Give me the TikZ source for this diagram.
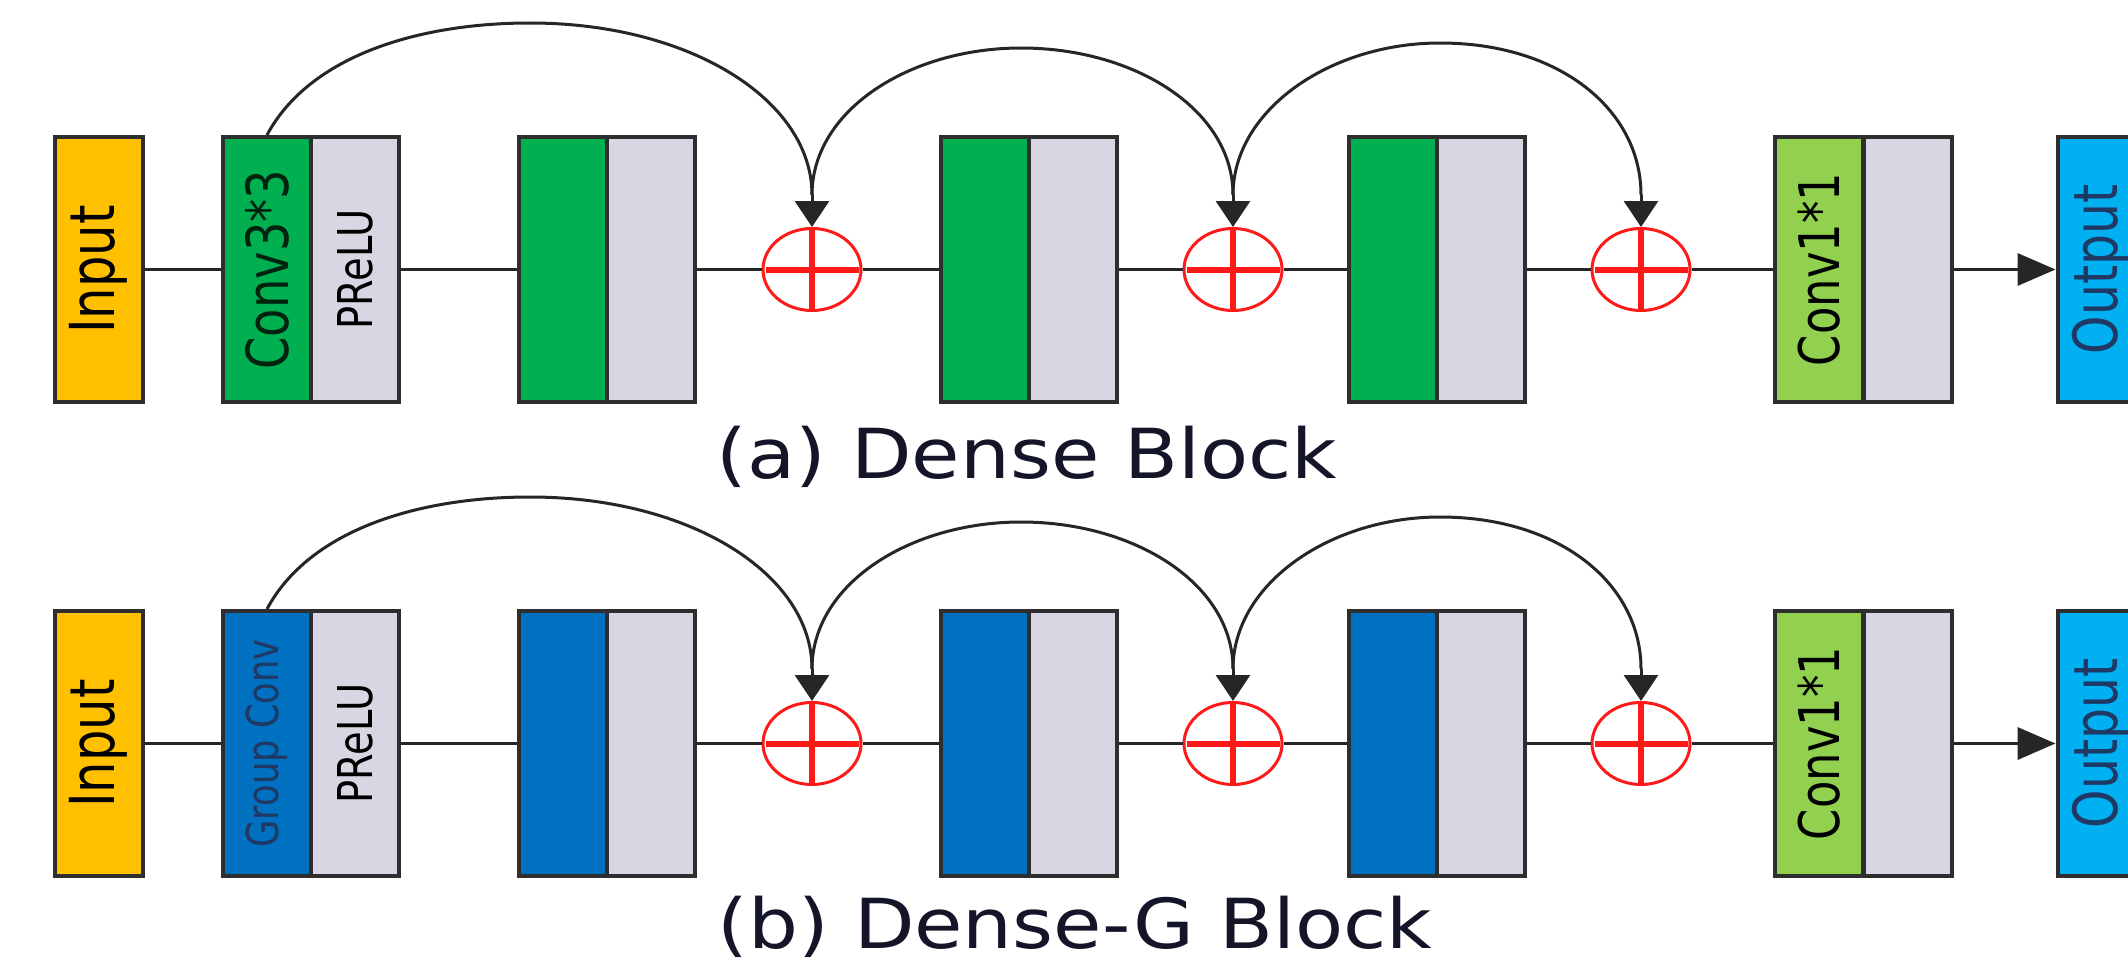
\documentclass[tikz,border=0pt]{standalone}
\usepackage{fontspec}
\usepackage{graphicx}
\usetikzlibrary{shapes.geometric,arrows.meta}
\newfontfamily\boxfont[FakeStretch=0.8]{DejaVu Sans}
\newfontfamily\capfont[FakeStretch=1.14]{DejaVu Sans}
\definecolor{inyellow}{HTML}{FFC000}
\definecolor{convgreen}{HTML}{00B050}
\definecolor{actgray}{HTML}{D9D6E4}
\definecolor{lightgreen}{HTML}{92D050}
\definecolor{gconvblue}{HTML}{0070C0}
\definecolor{outblue}{HTML}{00B0F0}
\definecolor{bordergray}{HTML}{2E2E2E}
\definecolor{plusred}{HTML}{FF1A1A}
\definecolor{gtext}{HTML}{1F3864}
\definecolor{captext}{HTML}{15152A}
\newcommand\vtxt[3][black]{\rotatebox{90}{\fontsize{#2}{#2}\selectfont\boxfont\color{#1}#3}}
\begin{document}
\begin{tikzpicture}[x=1pt,y=-1pt,
  blk/.style={draw=bordergray, line width=4pt, minimum width=88pt, minimum height=265pt, inner sep=0pt, anchor=center},
  plusnode/.style={ellipse, draw=plusred, line width=3pt, fill=white, minimum width=98pt, minimum height=82pt, inner sep=0pt},
  plusbar/.style={draw=plusred, line width=6pt},
  link/.style={line width=3.5pt, draw=black!85},
  skiparc/.style={line width=3pt, draw=black!85},
  skiptip/.style={line width=3pt, draw=black!85, -{Triangle[length=26pt,width=34pt]}},
  outtip/.style={line width=3.5pt, draw=black!85, -{Triangle[length=38pt,width=32pt]}},
  captxt/.style={font=\fontsize{69}{69}\selectfont\capfont, text=captext, anchor=base, inner sep=0pt},
]
\fill[white] (0,0) rectangle (2128,958);
\useasboundingbox (0,0) rectangle (2128,958);

% ---------------- Row (a) ----------------
\node[blk, fill=inyellow] (ina) at (98.5,269.5) {\vtxt{62}{Input}};
\node[blk, fill=convgreen] (c1a) at (267,269.5) {\vtxt[black!80!convgreen]{58}{Conv3*3}};
\node[blk, fill=actgray] (c1b) at (355,269.5) {\vtxt{48}{PReLU}};
\node[blk, fill=convgreen] (c2a) at (563,269.5) {};
\node[blk, fill=actgray] (c2b) at (651,269.5) {};
\node[blk, fill=convgreen] (c3a) at (984.5,269.5) {};
\node[blk, fill=actgray] (c3b) at (1073,269.5) {};
\node[blk, fill=convgreen] (c4a) at (1392.5,269.5) {};
\node[blk, fill=actgray] (c4b) at (1481,269.5) {};
\node[blk, fill=lightgreen] (c5a) at (1819,269.5) {\vtxt{56}{Conv1*1}};
\node[blk, fill=actgray] (c5b) at (1907.5,269.5) {};
\node[blk, fill=outblue] (outa) at (2101.5,269.5) {\vtxt[gtext]{61}{Output}};

\draw[link] (ina.east) -- (c1a.west);
\draw[link] (c1b.east) -- (c2a.west);
\node[plusnode] (p1a) at (812,269.5) {};
\node[plusnode] (p2a) at (1233,269.5) {};
\node[plusnode] (p3a) at (1641,269.5) {};
\draw[link] (c2b.east) -- (p1a.west);
\draw[link] (p1a.east) -- (c3a.west);
\draw[link] (c3b.east) -- (p2a.west);
\draw[link] (p2a.east) -- (c4a.west);
\draw[link] (c4b.east) -- (p3a.west);
\draw[link] (p3a.east) -- (c5a.west);
\draw[outtip] (c5b.east) -- (outa.west);
\foreach \p in {p1a,p2a,p3a}{
  \draw[plusbar] (\p.north) -- (\p.south);
  \draw[plusbar] ([xshift=4pt]\p.west) -- ([xshift=-4pt]\p.east);
}
\coordinate (j1a) at (812,195);
\coordinate (j2a) at (1233,195);
\coordinate (j3a) at (1641,195);
\draw[skiparc] (c1a.north) .. controls (310,55) and (420,23) .. (530,23)
  .. controls (690,23) and (812,100) .. (j1a);
\draw[skiparc] (j1a) .. controls (812,110) and (910,48) .. (1021,48)
  .. controls (1135,48) and (1233,110) .. (j2a);
\draw[skiparc] (j2a) .. controls (1233,110) and (1330,43) .. (1440,43)
  .. controls (1560,43) and (1641,110) .. (j3a);
\draw[skiptip] (j1a) -- (p1a.north);
\draw[skiptip] (j2a) -- (p2a.north);
\draw[skiptip] (j3a) -- (p3a.north);

\node[captxt] (capa) at (1027,478) {(a) Dense Block};

% ---------------- Row (b) ----------------
\node[blk, fill=inyellow] (inb) at (98.5,743.5) {\vtxt{62}{Input}};
\node[blk, fill=gconvblue] (g1a) at (267,743.5) {\vtxt[gtext]{44}{Group Conv}};
\node[blk, fill=actgray] (g1b) at (355,743.5) {\vtxt{48}{PReLU}};
\node[blk, fill=gconvblue] (g2a) at (563,743.5) {};
\node[blk, fill=actgray] (g2b) at (651,743.5) {};
\node[blk, fill=gconvblue] (g3a) at (984.5,743.5) {};
\node[blk, fill=actgray] (g3b) at (1073,743.5) {};
\node[blk, fill=gconvblue] (g4a) at (1392.5,743.5) {};
\node[blk, fill=actgray] (g4b) at (1481,743.5) {};
\node[blk, fill=lightgreen] (g5a) at (1819,743.5) {\vtxt{56}{Conv1*1}};
\node[blk, fill=actgray] (g5b) at (1907.5,743.5) {};
\node[blk, fill=outblue] (outb) at (2101.5,743.5) {\vtxt[gtext]{61}{Output}};

\draw[link] (inb.east) -- (g1a.west);
\draw[link] (g1b.east) -- (g2a.west);
\node[plusnode] (p1b) at (812,743.5) {};
\node[plusnode] (p2b) at (1233,743.5) {};
\node[plusnode] (p3b) at (1641,743.5) {};
\draw[link] (g2b.east) -- (p1b.west);
\draw[link] (p1b.east) -- (g3a.west);
\draw[link] (g3b.east) -- (p2b.west);
\draw[link] (p2b.east) -- (g4a.west);
\draw[link] (g4b.east) -- (p3b.west);
\draw[link] (p3b.east) -- (g5a.west);
\draw[outtip] (g5b.east) -- (outb.west);
\foreach \p in {p1b,p2b,p3b}{
  \draw[plusbar] (\p.north) -- (\p.south);
  \draw[plusbar] ([xshift=4pt]\p.west) -- ([xshift=-4pt]\p.east);
}
\coordinate (j1b) at (812,669);
\coordinate (j2b) at (1233,669);
\coordinate (j3b) at (1641,669);
\draw[skiparc] (g1a.north) .. controls (310,529) and (420,497) .. (530,497)
  .. controls (690,497) and (812,574) .. (j1b);
\draw[skiparc] (j1b) .. controls (812,584) and (910,522) .. (1021,522)
  .. controls (1135,522) and (1233,584) .. (j2b);
\draw[skiparc] (j2b) .. controls (1233,584) and (1330,517) .. (1440,517)
  .. controls (1560,517) and (1641,584) .. (j3b);
\draw[skiptip] (j1b) -- (p1b.north);
\draw[skiptip] (j2b) -- (p2b.north);
\draw[skiptip] (j3b) -- (p3b.north);

\node[captxt] (capb) at (1075,948) {(b) Dense-G Block};
\end{tikzpicture}
\end{document}
